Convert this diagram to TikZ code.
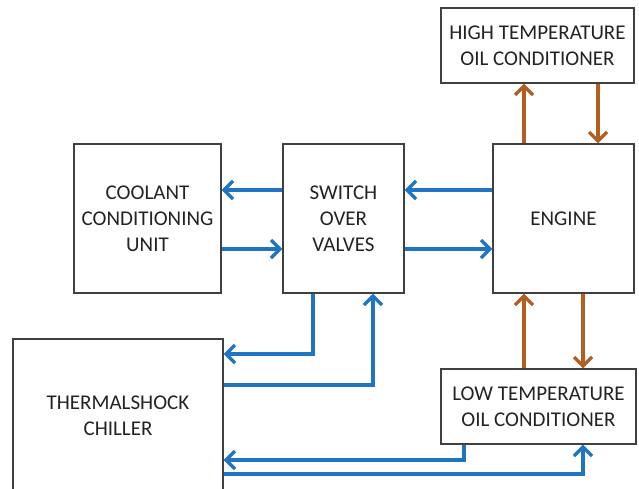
\documentclass[tikz,border=0pt]{standalone}
\usepackage{fontspec}
\setmainfont{Carlito}
\usetikzlibrary{arrows.meta}
\definecolor{flowblue}{RGB}{31,117,196}
\definecolor{oilbrown}{RGB}{178,96,34}
\definecolor{boxline}{RGB}{64,64,64}
\definecolor{txt}{RGB}{35,35,35}
\begin{document}
\begin{tikzpicture}[x=1pt,y=-1pt,
  unit/.style={draw=boxline,line width=1.2pt,fill=white,inner sep=0pt,align=center,
    text=txt,font=\fontsize{21}{26}\selectfont},
  bluepipe/.style={draw=flowblue,line width=3.4pt,-{Straight Barb[length=9pt,width=18pt]}},
  oilpipe/.style={draw=oilbrown,line width=3.4pt,-{Straight Barb[length=9pt,width=18pt]}}]
\useasboundingbox (0,0) rectangle (639,488);
\node[unit,minimum width=193pt,minimum height=75pt] (htoc) at (537.5,45.5) {HIGH TEMPERATURE\\OIL CONDITIONER};
\node[unit,minimum width=147pt,minimum height=149pt] (coolant) at (147.5,218.5) {COOLANT\\CONDITIONING\\UNIT};
\node[unit,minimum width=121pt,minimum height=149pt] (sov) at (343.5,218.5) {SWITCH\\OVER\\VALVES};
\node[unit,minimum width=141pt,minimum height=149pt] (engine) at (563.5,218.5) {ENGINE};
\node[unit,minimum width=210pt,minimum height=153pt] (chiller) at (118,415.5) {THERMALSHOCK\\CHILLER};
\node[unit,minimum width=195pt,minimum height=75pt] (ltoc) at (538.5,406.5) {LOW TEMPERATURE\\OIL CONDITIONER};
% blue coolant loops
\draw[bluepipe] (sov.west |- 0,190) -- (coolant.east |- 0,190);
\draw[bluepipe] (coolant.east |- 0,249) -- (sov.west |- 0,249);
\draw[bluepipe] (engine.west |- 0,190) -- (sov.east |- 0,190);
\draw[bluepipe] (sov.east |- 0,249) -- (engine.west |- 0,249);
\draw[bluepipe] (sov.south -| 313,0) |- (chiller.east |- 0,354);
\draw[bluepipe] (chiller.east |- 0,385) -| (sov.south -| 373,0);
\draw[bluepipe] (ltoc.south -| 464,0) |- (chiller.east |- 0,460);
\draw[bluepipe] (chiller.east |- 0,474) -| (ltoc.south -| 583,0);
% oil loops
\draw[oilpipe] (engine.north -| 524,0) -- (htoc.south -| 524,0);
\draw[oilpipe] (htoc.south -| 598,0) -- (engine.north -| 598,0);
\draw[oilpipe] (ltoc.north -| 524,0) -- (engine.south -| 524,0);
\draw[oilpipe] (engine.south -| 583,0) -- (ltoc.north -| 583,0);
\end{tikzpicture}
\end{document}
